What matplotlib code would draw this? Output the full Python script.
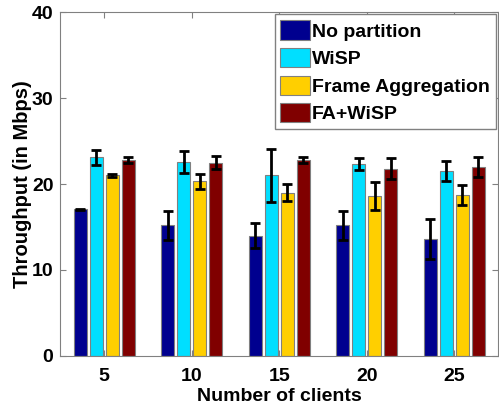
import numpy as np
import matplotlib.pyplot as plt

plt.rcParams['font.family'] = ['Liberation Sans', 'DejaVu Sans']
plt.rcParams['font.weight'] = 'bold'

clients = [5, 10, 15, 20, 25]
labels = ['No partition', 'WiSP', 'Frame Aggregation', 'FA+WiSP']
colors = ['#00008f', '#00dfff', '#ffcf00', '#800000']

no_part = [17.05, 15.2, 14.0, 15.2, 13.6]
no_part_err = [0.1, 1.7, 1.5, 1.7, 2.35]
wisp = [23.1, 22.6, 21.0, 22.3, 21.5]
wisp_err = [0.9, 1.3, 3.1, 0.7, 1.15]
fa = [21.0, 20.3, 19.0, 18.6, 18.7]
fa_err = [0.15, 0.85, 0.95, 1.6, 1.15]
fawisp = [22.8, 22.5, 22.8, 21.8, 22.0]
fawisp_err = [0.35, 0.75, 0.4, 1.2, 1.15]

series = [no_part, wisp, fa, fawisp]
errs = [no_part_err, wisp_err, fa_err, fawisp_err]

fig = plt.figure(figsize=(4.99, 4.04), dpi=100)
ax = fig.add_axes([0.121, 0.119, 0.877, 0.851])

x = np.array(clients, dtype=float)
step = 0.91
w = 0.74
for i in range(4):
    ax.bar(x + (i - 1.5) * step, series[i], w, color=colors[i], edgecolor='#808080',
           linewidth=0.8, label=labels[i],
           yerr=errs[i], ecolor='black', capsize=3.5,
           error_kw={'elinewidth': 2, 'capthick': 2})

ax.set_xlim(2.5, 27.5)
ax.set_ylim(0, 40)
ax.set_xticks(clients)
ax.set_yticks([0, 10, 20, 30, 40])
ax.tick_params(direction='in', top=True, right=True, labelsize=14, length=4,
               color='#808080', pad=5)
ax.tick_params(axis='x', pad=9)
for s in ax.spines.values():
    s.set_color('#808080')
ax.set_xlabel('Number of clients', fontsize=14, fontweight='bold', labelpad=2)
ax.set_ylabel('Throughput (in Mbps)', fontsize=14.5, fontweight='bold', labelpad=0)

leg = ax.legend(loc='upper right', fontsize=14, fancybox=False, framealpha=1,
                edgecolor='#808080', handlelength=1.5, handleheight=1.15,
                handletextpad=0.12, borderaxespad=0.12, labelspacing=0.38,
                borderpad=0.3)
leg.get_frame().set_linewidth(1)

plt.savefig('out.png', dpi=100)
